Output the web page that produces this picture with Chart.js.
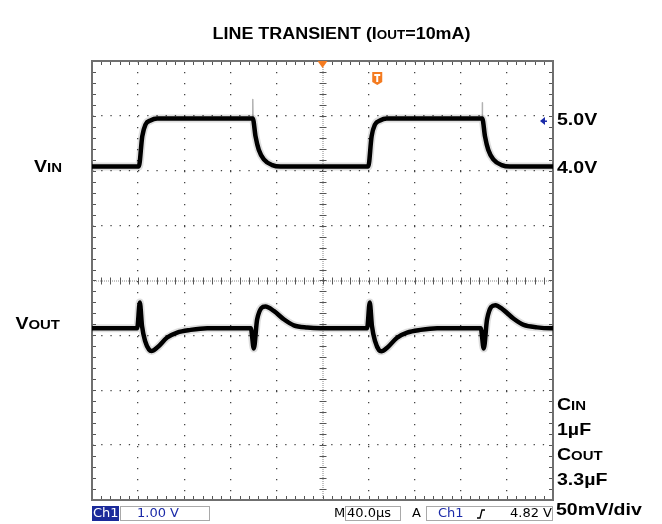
<!DOCTYPE html>
<html>
<head>
<meta charset="utf-8">
<script src="https://cdn.jsdelivr.net/npm/chart.js@4.4.0/dist/chart.umd.min.js"></script>
<style>
  html, body { margin: 0; padding: 0; background: #fff; }
  #wrap { width: 662px; height: 524px; position: relative; }
</style>
</head>
<body>
<div id="wrap"><canvas id="scope"></canvas></div>
<script>
// time axis in microseconds, 40us/div, trigger at the centre
const vinTime = [-200, -159.4, -156.4, -153.6, -149.3, -143.4, -100, -60.5, -58.1, -55.3, -50.9, -43.6, -36.4, 0,
                 39.7, 42.6, 45.5, 49.9, 55.7, 100, 138.6, 141.0, 143.8, 148.2, 155.5, 162.7, 200];
const vinVolts = [4.0, 4.0, 4.63, 4.875, 4.96, 5.0, 5.0, 5.0, 4.63, 4.35, 4.15, 4.03, 4.0, 4.0,
                  4.0, 4.63, 4.875, 4.96, 5.0, 5.0, 5.0, 4.63, 4.35, 4.15, 4.03, 4.0, 4.0];

// thin glitches on the falling edges of VIN
const spikeTime = [-60.7, -60.5, -60.2, 0, 138.4, 138.6, 138.9];
const spikeVolts = [5.0, 5.4, 4.9, null, 5.0, 5.33, 4.9];

// VOUT as deviation from its steady level, mV (50mV/div)
const voutTime = [-200, -160.8, -158.5, -156.6, -153.8, -150.5, -148.4, -143.4, -134.8, -126.1, -114.5, -100,
                  -62.2, -59.6, -56.7, -49.5, -42.3, -33.6, -24.9, -13.3, -1.7,
                  38.7, 41.0, 42.9, 45.7, 49.0, 51.1, 56.1, 64.7, 73.4, 85.0, 99.5,
                  137.3, 139.9, 142.8, 150.0, 157.2, 165.9, 174.6, 186.2, 197.8, 200];
const voutMv = [0, 0, 23.4, 2, -12, -19.5, -20.7, -17.6, -8.5, -3.9, -1.5, 0,
                0, -18.5, 8.2, 19.8, 15.8, 8.2, 2.7, 0.6, 0,
                0, 23.4, 2, -12, -20, -21, -17.8, -8.6, -4, -1.5, 0,
                0, -18.5, 8.2, 21, 16.5, 8.6, 3, 0.8, 0, 0];

const inLevels = ['5.0V', '4.0V'];
const inLevelValues = [5.0, 4.0];
const capNotes = [['C', 'IN'], ['1µF'], ['C', 'OUT'], ['3.3µF']];

const pts = (xs, ys) => xs.map((x, i) => ({ x: x, y: ys[i] }));

const BOLD = '"Liberation Sans", Arial, sans-serif';

// bold text made of [string, size] pieces, widened like the scope capture
function richText(ctx, parts, x, y, align, stretch) {
    stretch = stretch || 1.15;
    ctx.save();
    ctx.textBaseline = 'alphabetic';
    ctx.textAlign = 'left';
    let w = 0;
    parts.forEach(p => { ctx.font = 'bold ' + p[1] + 'px ' + BOLD; w += ctx.measureText(p[0]).width; });
    w *= stretch;
    let sx = x;
    if (align === 'center') sx = x - w / 2;
    if (align === 'right') sx = x - w;
    ctx.translate(sx, y);
    ctx.scale(stretch, 1);
    let cx = 0;
    parts.forEach(p => {
        ctx.font = 'bold ' + p[1] + 'px ' + BOLD;
        ctx.fillStyle = '#000';
        ctx.fillText(p[0], cx, 0);
        cx += ctx.measureText(p[0]).width;
    });
    ctx.restore();
}

const graticule = {
    id: 'graticule',
    beforeDatasetsDraw(chart) {
        const ctx = chart.ctx;
        const a = chart.chartArea;
        const xs = chart.scales.x, ys = chart.scales.y;
        ctx.save();
        // centre cross, finely dotted with minor ticks
        const cx = xs.getPixelForValue(0), cy = ys.getPixelForValue(0);
        ctx.strokeStyle = '#888';
        ctx.lineWidth = 1;
        ctx.setLineDash([1, 1]);
        ctx.beginPath();
        ctx.moveTo(a.left, cy + 0.5); ctx.lineTo(a.right, cy + 0.5);
        ctx.moveTo(cx + 0.5, a.top); ctx.lineTo(cx + 0.5, a.bottom);
        ctx.stroke();
        ctx.setLineDash([]);
        ctx.strokeStyle = '#555';
        ctx.beginPath();
        for (let t = -200; t <= 200; t += 8) {
            const px = Math.round(xs.getPixelForValue(t)) + 0.5;
            ctx.moveTo(px, cy - 3); ctx.lineTo(px, cy + 4);
            ctx.moveTo(px, a.top); ctx.lineTo(px, a.top + 4);
            ctx.moveTo(px, a.bottom); ctx.lineTo(px, a.bottom - 4);
        }
        for (let d = -4; d <= 4.001; d += 0.2) {
            const py = Math.round(ys.getPixelForValue(d)) + 0.5;
            ctx.moveTo(cx - 3, py); ctx.lineTo(cx + 4, py);
            ctx.moveTo(a.left, py); ctx.lineTo(a.left + 4, py);
            ctx.moveTo(a.right, py); ctx.lineTo(a.right - 4, py);
        }
        ctx.stroke();
        // frame
        ctx.strokeStyle = '#6f6f6f';
        ctx.lineWidth = 2;
        ctx.strokeRect(a.left, a.top, a.right - a.left, a.bottom - a.top);
        ctx.restore();
    },
    afterDraw(chart) {
        const ctx = chart.ctx;
        const a = chart.chartArea;
        const xs = chart.scales.x, yIn = chart.scales.yIn, yOut = chart.scales.yOut;
        ctx.save();

        // trigger position marker
        const tx = xs.getPixelForValue(0);
        ctx.fillStyle = '#f47b20';
        ctx.beginPath();
        ctx.moveTo(tx - 5, a.top); ctx.lineTo(tx + 5, a.top); ctx.lineTo(tx, a.top + 7);
        ctx.closePath(); ctx.fill();
        // "T" trigger point tag
        const tt = xs.getPixelForValue(47.5);
        ctx.beginPath();
        ctx.moveTo(tt - 5, a.top + 11); ctx.lineTo(tt + 5, a.top + 11);
        ctx.lineTo(tt + 5, a.top + 21); ctx.lineTo(tt, a.top + 24); ctx.lineTo(tt - 5, a.top + 21);
        ctx.closePath(); ctx.fill();
        ctx.fillStyle = '#fff';
        ctx.fillRect(tt - 3, a.top + 13, 6, 2);
        ctx.fillRect(tt - 1, a.top + 13, 2, 8);

        // trigger level arrow at the right edge
        const ly = yIn.getPixelForValue(4.95);
        ctx.fillStyle = '#1a2aa8';
        ctx.beginPath();
        ctx.moveTo(a.right - 13, ly); ctx.lineTo(a.right - 8, ly - 4); ctx.lineTo(a.right - 8, ly + 4);
        ctx.closePath(); ctx.fill();
        ctx.fillRect(a.right - 9, ly - 0.5, 3, 1.5);

        // title
        richText(ctx, [['LINE TRANSIENT (I', 16], ['OUT', 12], ['=10mA)', 16]], 341.5, 39, 'center', 1.12);

        // channel labels
        richText(ctx, [['V', 17], ['IN', 13]], 62, yIn.getPixelForValue(4.0) + 5, 'right');
        richText(ctx, [['V', 17], ['OUT', 13]], 60, yOut.getPixelForValue(0) + 1, 'right');

        inLevels.forEach((s, i) => {
            richText(ctx, [[s, 17]], a.right + 4, yIn.getPixelForValue(inLevelValues[i]) + 6, 'left');
        });
        const noteY = [410, 435, 460, 485];
        capNotes.forEach((n, i) => {
            const parts = n.length === 2 ? [[n[0], 17], [n[1], 13]] : [[n[0], 17]];
            richText(ctx, parts, a.right + 4, noteY[i], 'left');
        });
        richText(ctx, [['50mV/div', 17]], a.right + 3, 515, 'left');

        // scope status bar
        const sy = a.bottom + 6, sh = 15, mid = sy + sh / 2 + 0.5;
        ctx.textBaseline = 'middle';
        ctx.font = '13px "DejaVu Sans", sans-serif';
        ctx.fillStyle = '#1b2a9a';
        ctx.fillRect(a.left, sy, 27, sh);
        ctx.fillStyle = '#fff';
        ctx.fillText('Ch1', a.left + 1, mid);
        ctx.strokeStyle = '#a9a9a9';
        ctx.lineWidth = 1;
        ctx.strokeRect(120.5, sy + 0.5, 89, sh - 1);
        ctx.strokeRect(345.5, sy + 0.5, 55, sh - 1);
        ctx.strokeRect(426.5, sy + 0.5, a.right - 427, sh - 1);
        ctx.fillStyle = '#1b2aa8';
        ctx.fillText('1.00 V', 137, mid);
        ctx.fillText('Ch1', 438, mid);
        ctx.fillStyle = '#000';
        ctx.fillText('M', 334, mid);
        ctx.fillText('40.0µs', 347, mid);
        ctx.fillText('A', 412, mid);
        ctx.textAlign = 'right';
        ctx.fillText('4.82 V', a.right - 1, mid);
        // rising slope symbol
        ctx.strokeStyle = '#000';
        ctx.lineWidth = 1.3;
        ctx.beginPath();
        ctx.moveTo(477, mid + 4); ctx.lineTo(480, mid + 4); ctx.lineTo(482, mid - 4); ctx.lineTo(485, mid - 4);
        ctx.stroke();
        ctx.restore();
    }
};

const traceHalo = 'rgba(0, 0, 0, 0.13)';
const data = {
    datasets: [
        { data: pts(vinTime, vinVolts), yAxisID: 'yIn', borderColor: '#000', borderWidth: 4.5, order: 0 },
        { data: pts(voutTime, voutMv), yAxisID: 'yOut', borderColor: '#000', borderWidth: 4.5, order: 0 },
        { data: pts(vinTime, vinVolts), yAxisID: 'yIn', borderColor: traceHalo, borderWidth: 8, order: 2 },
        { data: pts(voutTime, voutMv), yAxisID: 'yOut', borderColor: traceHalo, borderWidth: 8, order: 2 },
        { data: pts(spikeTime, spikeVolts), yAxisID: 'yIn', borderColor: 'rgba(0,0,0,0.3)', borderWidth: 1.5,
          cubicInterpolationMode: 'default', tension: 0, order: 1 },
    ]
};

const hideEdges = (ctx, lo, hi) => {
    const v = ctx.tick.value;
    return (v === 0 || v === lo || v === hi) ? 'rgba(0,0,0,0)' : '#444';
};

const options = {
    responsive: true,
    maintainAspectRatio: false,
    animation: false,
    layout: { padding: { left: 92, right: 109, top: 61, bottom: 24 } },
    elements: {
        point: { radius: 0 },
        line: { cubicInterpolationMode: 'monotone', borderCapStyle: 'round', borderJoinStyle: 'round' }
    },
    scales: {
        x: {
            type: 'linear', min: -200, max: 200,
            ticks: { display: false, stepSize: 40 },
            grid: { drawTicks: false, color: c => hideEdges(c, -200, 200), lineWidth: 1.3 },
            border: { display: false, dash: [1.3, 9.7] }
        },
        y: {
            type: 'linear', min: -4, max: 4,
            ticks: { display: false, stepSize: 1 },
            grid: { drawTicks: false, color: c => hideEdges(c, -4, 4), lineWidth: 1.3 },
            border: { display: false, dash: [1.3, 7.9] }
        },
        // VIN in volts: 4.0V sits 2.08 div above centre, 48px per volt
        yIn: { type: 'linear', display: false, min: -2.95, max: 6.2 },
        // VOUT deviation in mV: 50mV/div, steady level 0.87 div below centre
        yOut: { type: 'linear', display: false, min: -156.5, max: 243.5 }
    },
    plugins: {
        legend: { display: false },
        tooltip: { enabled: false }
    }
};

const myChart = new Chart(document.getElementById('scope'), {
    type: 'line',
    data: data,
    options: options,
    plugins: [graticule]
});
</script>
</body>
</html>
